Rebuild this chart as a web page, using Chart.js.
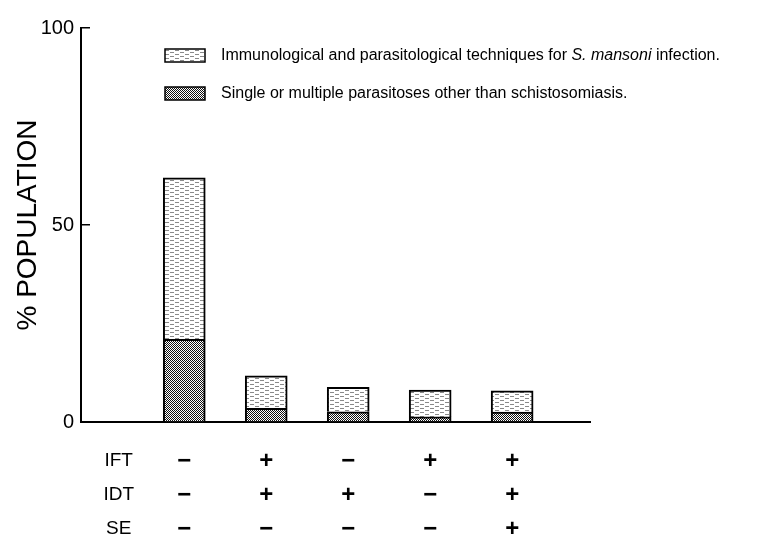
<!DOCTYPE html>
<html>
  <head>
    <script src="https://cdn.jsdelivr.net/npm/chart.js@4.4.0/dist/chart.umd.min.js"></script>
    <style>
      body { margin: 0; background: #fff; }
    </style>
  </head>
  <body>
    <canvas id="chart-population" width="765" height="543"></canvas>
    <script>
      // INPUT DATA

      const groups = [1, 2, 3, 4, 5];
      const otherParasitoses = [21, 3.5, 2.6, 1.3, 2.5];
      const mansoniTechniques = [41, 8.2, 6.2, 6.8, 5.4];
      const rowNames = ["IFT", "IDT", "SE"];
      const iftSigns = ["\u2212", "+", "\u2212", "+", "+"];
      const idtSigns = ["\u2212", "+", "+", "\u2212", "+"];
      const seSigns = ["\u2212", "\u2212", "\u2212", "\u2212", "+"];
      const yTicks = [0, 50, 100];
      const labelMansoni = "Immunological and parasitological techniques for S. mansoni infection.";
      const labelOther = "Single or multiple parasitoses other than schistosomiasis.";
      const italicPart = "S. mansoni";

      // where the row names of the sign table sit on the x scale
      const rowNamesAt = 0.2;

      // PATTERNS

      function makePattern(w, h, draw) {
        const c = document.createElement("canvas");
        c.width = w;
        c.height = h;
        const g = c.getContext("2d");
        g.fillStyle = "#fff";
        g.fillRect(0, 0, w, h);
        draw(g);
        return g.createPattern(c, "repeat");
      }

      const lightDashes = makePattern(10, 4, function (g) {
        g.fillStyle = "#8a8a8a";
        g.fillRect(0, 0, 4, 1);
        g.fillRect(5, 2, 4, 1);
      });

      const denseHatch = makePattern(4, 4, function (g) {
        g.fillStyle = "#111";
        for (let x = 0; x < 4; x++) {
          for (let y = 0; y < 4; y++) {
            if ((x + y) % 4 === 0 || (x - y + 4) % 4 === 0 || (x + y) % 4 === 2) g.fillRect(x, y, 1, 1);
          }
        }
      });

      // PLOTTING DATA

      const plotData = {
        datasets: [
          {
            label: labelOther,
            data: groups.map(function (g, i) {
              return { x: g, y: otherParasitoses[i] };
            }),
            backgroundColor: denseHatch,
            borderColor: "#000",
            borderWidth: 2,
          },
          {
            label: labelMansoni,
            data: groups.map(function (g, i) {
              return { x: g, y: mansoniTechniques[i] };
            }),
            backgroundColor: lightDashes,
            borderColor: "#000",
            borderWidth: 2,
          },
        ],
      };

      const tableLines = function (value) {
        if (value === rowNamesAt) return rowNames;
        const i = groups.indexOf(value);
        if (i < 0) return "";
        return [iftSigns[i], idtSigns[i], seSigns[i]];
      };

      const paperLegend = {
        id: "paperLegend",
        afterDraw: function (chart) {
          const ctx = chart.ctx;
          const area = chart.chartArea;
          [1, 0].forEach(function (di, row) {
            const ds = chart.data.datasets[di];
            const x = area.left + 84;
            const y = area.top + 21 + row * 38;
            ctx.save();
            ctx.fillStyle = ds.backgroundColor;
            ctx.fillRect(x, y, 40, 13);
            ctx.lineWidth = 1.5;
            ctx.strokeStyle = "#000";
            ctx.strokeRect(x, y, 40, 13);

            ctx.fillStyle = "#000";
            ctx.textBaseline = "middle";
            ctx.textAlign = "left";
            const normalFont = "16px 'Liberation Sans', Arial, sans-serif";
            const italicFont = "italic 16px 'Liberation Sans', Arial, sans-serif";
            let tx = x + 56;
            const ty = y + 7;
            const parts = ds.label.split(italicPart);
            parts.forEach(function (p, k) {
              ctx.font = normalFont;
              ctx.fillText(p, tx, ty);
              tx += ctx.measureText(p).width;
              if (k < parts.length - 1) {
                ctx.font = italicFont;
                ctx.fillText(italicPart, tx, ty);
                tx += ctx.measureText(italicPart).width;
              }
            });
            ctx.restore();
          });
        },
      };

      const ctx = document.getElementById("chart-population").getContext("2d");
      const populationChart = new Chart(ctx, {
        type: "bar",
        data: plotData,
        plugins: [paperLegend],
        options: {
          responsive: false,
          animation: false,
          events: [],
          barThickness: 42,
          layout: { padding: { left: 0, top: 19, right: 175, bottom: 0 } },
          plugins: {
            legend: { display: false },
            tooltip: { enabled: false },
          },
          scales: {
            x: {
              type: "linear",
              min: -0.26,
              max: 5.95,
              stacked: true,
              offset: false,
              afterBuildTicks: function (scale) {
                scale.ticks = [rowNamesAt].concat(groups).map(function (v) {
                  return { value: v };
                });
              },
              afterFit: function (scale) {
                scale.height = 121;
              },
              grid: { display: false, drawTicks: false },
              border: { color: "#000", width: 2 },
              ticks: {
                autoSkip: false,
                maxRotation: 0,
                padding: 22,
                color: "#000",
                font: function (c) {
                  const isName = c.tick && c.tick.value === rowNamesAt;
                  return {
                    family: "'Liberation Sans', Arial, sans-serif",
                    size: isName ? 19 : 24,
                    weight: isName ? "normal" : "bold",
                    lineHeight: "34px",
                  };
                },
                callback: tableLines,
              },
            },
            y: {
              min: 0,
              max: 100,
              stacked: true,
              afterBuildTicks: function (scale) {
                scale.ticks = yTicks.map(function (v) {
                  return { value: v };
                });
              },
              afterFit: function (scale) {
                scale.width = 81;
              },
              grid: {
                drawOnChartArea: false,
                drawTicks: true,
                tickLength: -9,
                color: "#000",
                lineWidth: 1.5,
              },
              border: { color: "#000", width: 2 },
              ticks: {
                padding: 16,
                color: "#000",
                font: { family: "'Liberation Sans', Arial, sans-serif", size: 20 },
              },
              title: {
                display: true,
                text: "% POPULATION",
                color: "#000",
                padding: { top: 11, bottom: 0 },
                font: { family: "'Liberation Sans', Arial, sans-serif", size: 28 },
              },
            },
          },
        },
      });
    </script>
  </body>
</html>
